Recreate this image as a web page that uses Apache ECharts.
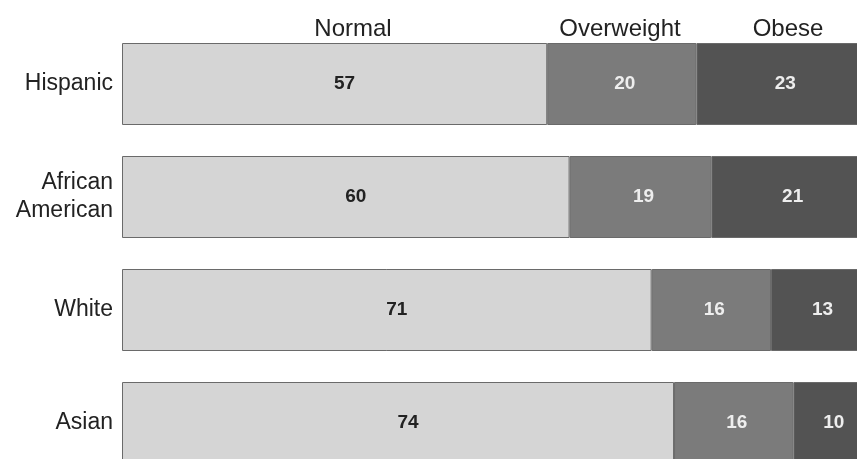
<!DOCTYPE html>
<html>
<head>
<meta charset="utf-8">
<script src="https://cdn.jsdelivr.net/npm/echarts@6/dist/echarts.min.js"></script>
<style>
html,body{margin:0;padding:0;background:#fff;overflow:hidden;width:857px;height:459px;}
#chart{width:900px;height:500px;}
</style>
</head>
<body>
<div id="chart"></div>
<script>
const categories = ['Hispanic', 'African\nAmerican', 'White', 'Asian'];
const seriesNames = ['Normal', 'Overweight', 'Obese'];
const normal = [57, 60, 71, 74];
const overweight = [20, 19, 16, 16];
const obese = [23, 21, 13, 10];

const chart = echarts.init(document.getElementById('chart'));
const font = 'Liberation Sans, Arial, sans-serif';
function mk(name, data, color, labelColor, offsetX) {
  return {
    name: name,
    type: 'bar',
    stack: 'total',
    data: data,
    barWidth: 82,
    itemStyle: { color: color, borderColor: '#6a6a6a', borderWidth: 1 },
    label: {
      show: true,
      position: 'inside',
      offset: [offsetX, 0],
      color: labelColor,
      fontFamily: font,
      fontWeight: 'bold',
      fontSize: 19
    },
    emphasis: { disabled: true }
  };
}
function header(text, x) {
  return { type: 'text', x: x, y: 29, style: { text: text, fill: '#222', font: '24px ' + font, align: 'center', verticalAlign: 'middle' } };
}
chart.setOption({
  animation: false,
  backgroundColor: '#fff',
  grid: { left: 122, top: 27.5, width: 746, height: 452, containLabel: false },
  xAxis: {
    type: 'value', min: 0, max: 100,
    show: false
  },
  yAxis: {
    type: 'category',
    data: categories,
    inverse: true,
    axisLine: { show: false },
    axisTick: { show: false },
    axisLabel: {
      margin: 9,
      color: '#222',
      fontFamily: font,
      fontSize: 23,
      lineHeight: 28,
      align: 'right'
    }
  },
  graphic: [
    header(seriesNames[0], 353),
    header(seriesNames[1], 620),
    header(seriesNames[2], 788)
  ],
  series: [
    mk(seriesNames[0], normal, '#d5d5d5', '#222', 10),
    mk(seriesNames[1], overweight, '#7b7b7b', '#eeeeee', 3),
    mk(seriesNames[2], obese, '#535353', '#eeeeee', 3)
  ]
});
</script>
</body>
</html>
